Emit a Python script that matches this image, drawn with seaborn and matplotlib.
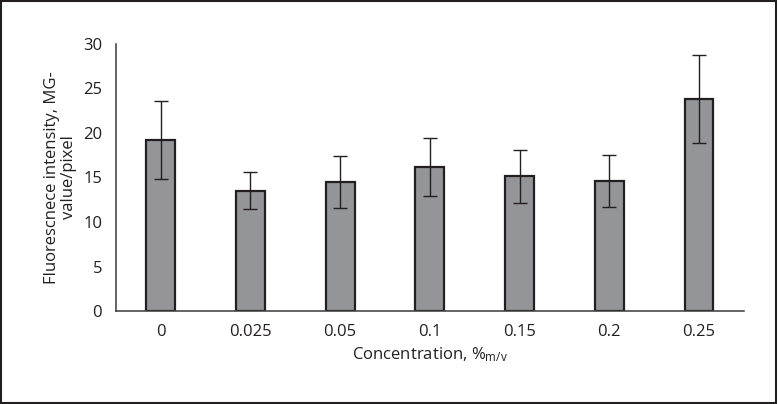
import matplotlib

matplotlib.use("Agg")

import matplotlib.pyplot as plt
import matplotlib.patches as mpatches
from matplotlib.ticker import FixedLocator
import pandas as pd
import seaborn as sns


concentrations = ["0", "0.025", "0.05", "0.1", "0.15", "0.2", "0.25"]
intensity = [19.2, 13.5, 14.45, 16.2, 15.1, 14.6, 23.8]
intensity_err = [4.4, 2.1, 2.9, 3.25, 2.95, 2.9, 4.9]

sns.set_style("white")
plt.rcParams["font.family"] = ["Open Sans", "DejaVu Sans"]
plt.rcParams["mathtext.default"] = "regular"

df = pd.DataFrame({"Concentration": concentrations, "Intensity": intensity})

fig = plt.figure(figsize=(7.78, 4.04), dpi=100)
ax = fig.add_axes([0.149, 0.230, 0.807, 0.662])

sns.barplot(
    data=df,
    x="Concentration",
    y="Intensity",
    color="#939598",
    saturation=1,
    width=0.32,
    edgecolor="#231f20",
    linewidth=1.6,
    errorbar=None,
    ax=ax,
)
ax.errorbar(
    range(len(concentrations)),
    intensity,
    yerr=intensity_err,
    fmt="none",
    ecolor="#231f20",
    elinewidth=1.0,
    capsize=5,
    capthick=1.0,
)

ax.set_xlim(-0.5, len(concentrations) - 0.5)
ax.set_ylim(0, 30)
ax.set_yticks(range(0, 31, 5))

spine_color = "#3a3a3a"
for side in ["top", "right"]:
    ax.spines[side].set_visible(False)
for side in ["left", "bottom"]:
    ax.spines[side].set_color(spine_color)
    ax.spines[side].set_linewidth(1.1)

fs = 12
ax.xaxis.set_minor_locator(FixedLocator([i - 0.5 for i in range(len(concentrations) + 1)]))
ax.tick_params(axis="x", which="major", length=0, pad=9, labelsize=fs, labelcolor="#231f20")
ax.tick_params(axis="x", which="minor", direction="out", length=7, width=1.1, color=spine_color)
ax.tick_params(axis="y", direction="out", length=7, width=1.1, color=spine_color,
               labelsize=fs, labelcolor="#231f20", pad=3)

ax.set_xlabel(r"Concentration, %$_{m/v}$", fontsize=fs, color="#231f20", labelpad=4)
ax.set_ylabel("Fluorescnece intensity, MG-\nvalue/pixel", fontsize=fs,
              color="#231f20", labelpad=4, linespacing=1.1)

fig.patches.append(
    mpatches.Rectangle((0.001, 0.002), 0.997, 0.996, transform=fig.transFigure,
                       fill=False, edgecolor="#231f20", linewidth=1.5)
)

fig.savefig("out.png", dpi=100)
plt.close(fig)
